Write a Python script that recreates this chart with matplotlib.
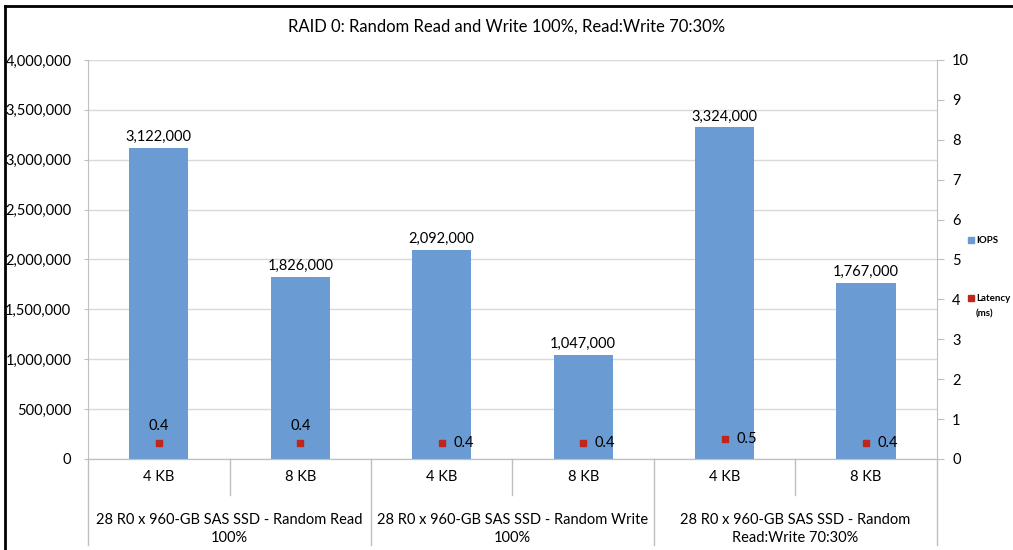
import matplotlib.pyplot as plt
import matplotlib.transforms as mtransforms
from matplotlib.patches import Rectangle
from matplotlib.lines import Line2D

plt.rcParams['font.family'] = ['Lato', 'DejaVu Sans']

# data
sizes = ["4 KB", "8 KB", "4 KB", "8 KB", "4 KB", "8 KB"]
groups = ["28 R0 x 960-GB SAS SSD - Random Read\n100%",
          "28 R0 x 960-GB SAS SSD - Random Write\n100%",
          "28 R0 x 960-GB SAS SSD - Random\nRead:Write 70:30%"]
iops = [3122000, 1826000, 2092000, 1047000, 3324000, 1767000]
latency = [0.4, 0.4, 0.4, 0.4, 0.5, 0.4]

bar_color = "#6A9BD2"
lat_color = "#C0261C"
axis_grey = "#BFBFBF"

fig = plt.figure(figsize=(10.13, 5.5), dpi=100)
ax = fig.add_axes([0.0869, 0.1655, 0.8380, 0.7255])
ax2 = ax.twinx()

x = list(range(len(iops)))
ax.bar(x, iops, width=0.42, color=bar_color, zorder=2)
for xi, v in zip(x, iops):
    ax.text(xi, v + 40000, f"{v:,}", ha="center", va="bottom", fontsize=10.5)

ax.set_xlim(-0.5, len(iops) - 0.5)
ax.set_ylim(0, 4000000)
ax.set_yticks(range(0, 4000001, 500000))
ax.set_yticklabels([f"{v:,}" for v in range(0, 4000001, 500000)])
ax.grid(axis="y", color="#D9D9D9", linewidth=1, zorder=0)
ax.set_axisbelow(True)
ax.tick_params(axis="y", length=3, color=axis_grey, labelsize=10.5, pad=9)
ax.set_xticks([])

ax2.set_ylim(0, 10)
ax2.set_yticks(range(0, 11))
ax2.tick_params(axis="y", length=5, color=axis_grey, labelsize=10.5, pad=6)
ax2.scatter(x, latency, marker="s", s=22, color=lat_color, zorder=3)
for i, (xi, v) in enumerate(zip(x, latency)):
    if i < 2:
        ax2.text(xi, v + 0.25, f"{v}", ha="center", va="bottom", fontsize=10.5)
    else:
        ax2.text(xi + 0.08, v, f"{v}", ha="left", va="center", fontsize=10.5)

for a in (ax, ax2):
    a.spines["top"].set_visible(False)
    for s in ("bottom", "left", "right"):
        a.spines[s].set_color(axis_grey)
ax.spines["right"].set_visible(False)
ax2.spines["left"].set_visible(False)

# category axis labels
trans = mtransforms.blended_transform_factory(ax.transData, ax.transAxes)
for xi, s in zip(x, sizes):
    ax.text(xi, -0.045, s, transform=trans, ha="center", va="center", fontsize=10.5)
for gi, g in enumerate(groups):
    ax.text(2 * gi + 0.5, -0.175, g, transform=trans, ha="center", va="center",
            fontsize=10.5, linespacing=1.35)
for b in [0.5, 2.5, 4.5]:
    ax.plot([b, b], [0, -0.09], transform=trans, color=axis_grey, lw=1, clip_on=False)
for b in [-0.5, 1.5, 3.5, 5.5]:
    ax.plot([b, b], [0, -0.215], transform=trans, color=axis_grey, lw=1, clip_on=False)

fig.text(0.5, 0.952, "RAID 0: Random Read and Write 100%, Read:Write 70:30%",
         ha="center", va="center", fontsize=12)

# legend
fig.patches.append(Rectangle((0.9555, 0.5575), 0.006, 0.011, transform=fig.transFigure,
                             color=bar_color))
fig.text(0.9635, 0.563, "IOPS", fontsize=7, va="center", fontweight="bold")
fig.patches.append(Rectangle((0.9555, 0.452), 0.006, 0.011, transform=fig.transFigure,
                             color=lat_color))
fig.text(0.9635, 0.4575, "Latency", fontsize=7, va="center", fontweight="bold")
fig.text(0.9635, 0.43, "(ms)", fontsize=7, va="center", fontweight="bold")

# outer frame (top and left edges only, as cropped in the reference)
fig.lines.append(Line2D([0.005, 1.0], [0.99, 0.99], transform=fig.transFigure,
                        color="black", lw=2))
fig.lines.append(Line2D([0.005, 0.005], [0.0, 0.99], transform=fig.transFigure,
                        color="black", lw=2))

fig.savefig("out.png", dpi=100)
